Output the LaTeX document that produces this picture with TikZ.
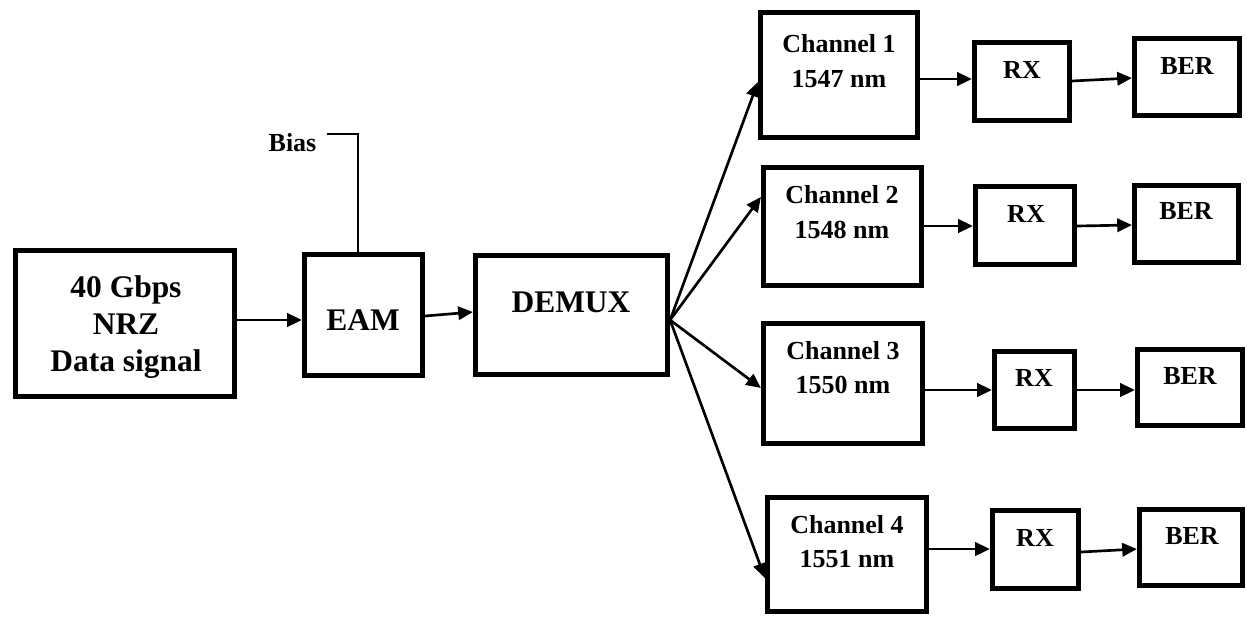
\documentclass[tikz,border=0pt]{standalone}
\usepackage{fontspec}
\setmainfont{Liberation Serif}
\usetikzlibrary{arrows.meta,fit}
\begin{document}
\begin{tikzpicture}[x=0.75pt,y=-0.75pt,
  box/.style={draw,line width=3.9pt,inner sep=0pt,rectangle},
  arr/.style={line width=2pt,-{Triangle[length=11pt,width=10pt]}},
  wire/.style={line width=2pt},
  big/.style={font=\fontsize{23.6}{27.75}\selectfont\bfseries,align=center,inner sep=0pt},
  small/.style={font=\fontsize{19.5}{26}\selectfont\bfseries,align=center,inner sep=0pt}]
\useasboundingbox (0,0) rectangle (1247,619);

% boxes
\node[box,fit={(15.5,250.5)(234.5,396.5)}] (data) {};
\node[box,fit={(304.5,254.5)(422.5,375.5)}] (eam) {};
\node[box,fit={(475.5,255.5)(667.5,374.5)}] (demux) {};
\node[box,fit={(760.5,12.5)(917.5,137.5)}] (ch1) {};
\node[box,fit={(974.5,42.5)(1069.5,120.5)}] (rx1) {};
\node[box,fit={(1134.5,38.5)(1239.5,115.5)}] (ber1) {};
\node[box,fit={(763.5,167.5)(921.5,285.5)}] (ch2) {};
\node[box,fit={(975.5,186.5)(1074.5,264.5)}] (rx2) {};
\node[box,fit={(1134.5,185.5)(1238.5,262.5)}] (ber2) {};
\node[box,fit={(763.5,323.5)(922.5,443.5)}] (ch3) {};
\node[box,fit={(994.5,351.5)(1074.5,428.5)}] (rx3) {};
\node[box,fit={(1137.5,349.5)(1242.5,425.5)}] (ber3) {};
\node[box,fit={(767.5,497.5)(926.5,611.5)}] (ch4) {};
\node[box,fit={(992.5,510.5)(1078.5,588.5)}] (rx4) {};
\node[box,fit={(1139.5,509.5)(1242.5,585.5)}] (ber4) {};

% texts
\node[big] (datat) at (126,327) {40 Gbps\\NRZ\\Data signal};
\node[big] (eamt) at (363,320) {EAM};
\node[big] (demuxt) at (571,302) {DEMUX};
\node[small] (bias) at (292.5,142.5) {Bias};
\node[small] (ch1t) at (839,61) {Channel 1\\1547 nm};
\node[small] (ch2t) at (842,212) {Channel 2\\1548 nm};
\node[small] (ch3t) at (843,367.5) {Channel 3\\1550 nm};
\node[small] (ch4t) at (847,541.5) {Channel 4\\1551 nm};
\node[small] (rx1t) at (1022,70) {RX};
\node[small] (rx2t) at (1026,213.5) {RX};
\node[small] (rx3t) at (1034,378) {RX};
\node[small] (rx4t) at (1035,538) {RX};
\node[small] (ber1t) at (1187,66) {BER};
\node[small] (ber2t) at (1186,211.5) {BER};
\node[small] (ber3t) at (1190,376) {BER};
\node[small] (ber4t) at (1192,536.5) {BER};

% bias line
\coordinate (biasstart) at (327,134);
\coordinate (biasx) at (358,0);
\draw[wire] (biasstart) -| (biasx |- eam.north);

% main chain
\draw[arr] (data.east |- 0,320) -- (eam.west |- 0,320);
\draw[arr] (eam.east |- 0,316) -- (demux.west |- 0,312);
\coordinate (fan) at (demux.east |- 0,320);
\draw[arr] (fan) -- (ch1.west |- 0,82);
\draw[arr] (fan) -- (ch2.west |- 0,197);
\draw[arr] (fan) -- (ch3.west |- 0,388);
\draw[arr] (fan) -- (ch4.west |- 0,578);

% channel -> rx -> ber
\draw[arr] (ch1.east |- 0,79) -- (rx1.west |- 0,79);
\draw[arr] (rx1.east |- 0,81) -- (ber1.west |- 0,78);
\draw[arr] (ch2.east |- 0,226) -- (rx2.west |- 0,226);
\draw[arr] (rx2.east |- 0,226) -- (ber2.west |- 0,225);
\draw[arr] (ch3.east |- 0,390) -- (rx3.west |- 0,390);
\draw[arr] (rx3.east |- 0,390) -- (ber3.west |- 0,390);
\draw[arr] (ch4.east |- 0,549) -- (rx4.west |- 0,549);
\draw[arr] (rx4.east |- 0,552) -- (ber4.west |- 0,549);
\end{tikzpicture}
\end{document}
